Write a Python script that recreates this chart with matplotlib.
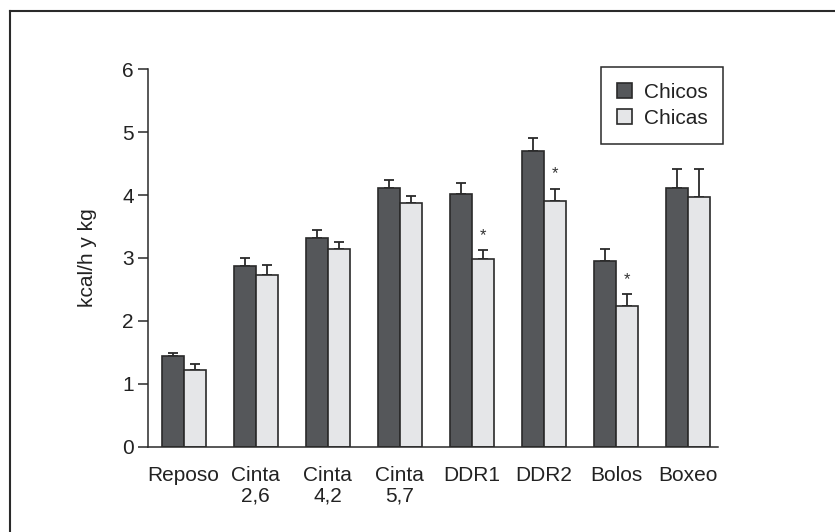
import numpy as np
import matplotlib.pyplot as plt
from matplotlib.lines import Line2D

plt.rcParams['font.family'] = ['Liberation Sans', 'DejaVu Sans']

# Datos
actividades = ['Reposo', 'Cinta\n2,6', 'Cinta\n4,2', 'Cinta\n5,7', 'DDR1', 'DDR2', 'Bolos', 'Boxeo']
chicos = [1.44, 2.88, 3.32, 4.11, 4.01, 4.70, 2.95, 4.11]
chicos_err = [0.05, 0.12, 0.12, 0.13, 0.19, 0.20, 0.20, 0.31]
chicas = [1.22, 2.73, 3.14, 3.87, 2.99, 3.90, 2.23, 3.97]
chicas_err = [0.09, 0.16, 0.12, 0.12, 0.13, 0.20, 0.19, 0.45]
significativo = [False, False, False, False, True, True, True, False]

color_chicos = '#55575a'
color_chicas = '#e5e6e8'
borde = '#2a2a2a'
fs = 15

fig = plt.figure(figsize=(8.35, 5.32), dpi=100)
ax = fig.add_axes([0.1776, 0.1604, 0.8595 - 0.1776, 0.8697 - 0.1604])

x = np.arange(len(actividades))
w = 0.305

ax.bar(x - w / 2, chicos, w, color=color_chicos, edgecolor=borde, linewidth=1.2, label='Chicos', zorder=2)
ax.bar(x + w / 2, chicas, w, color=color_chicas, edgecolor=borde, linewidth=1.2, label='Chicas', zorder=2)

# Barras de error (solo hacia arriba)
ax.errorbar(x - w / 2, chicos, yerr=[np.zeros(len(x)), chicos_err], fmt='none',
            ecolor=borde, elinewidth=1.3, capsize=3.8, capthick=1.3, zorder=1)
ax.errorbar(x + w / 2, chicas, yerr=[np.zeros(len(x)), chicas_err], fmt='none',
            ecolor=borde, elinewidth=1.3, capsize=3.8, capthick=1.3, zorder=1)

# Asteriscos de significación
for i in range(len(x)):
    if significativo[i]:
        ax.text(x[i] + w / 2, chicas[i] + chicas_err[i] + 0.12, '*', ha='center', va='bottom',
                fontsize=12, color='#333333')

ax.set_xlim(-0.49, 7.41)
ax.set_ylim(0, 6)
ax.set_yticks(range(7))
ax.set_xticks(x)
ax.set_xticklabels(actividades, fontsize=fs, color='#222222', linespacing=1.1)
ax.tick_params(axis='x', length=0, pad=14)
ax.tick_params(axis='y', direction='out', length=7.5, width=1.1, labelsize=fs,
               labelcolor='#222222', pad=3, color=borde)
ax.set_ylabel('kcal/h y kg', fontsize=fs, color='#222222', labelpad=18)

for s in ['top', 'right']:
    ax.spines[s].set_visible(False)
for s in ['left', 'bottom']:
    ax.spines[s].set_linewidth(1.1)
    ax.spines[s].set_color(borde)

leg = ax.legend(loc='upper right', bbox_to_anchor=(723 / 835, 1 - 67 / 532),
                bbox_transform=fig.transFigure, borderaxespad=0, fancybox=False,
                fontsize=fs, handlelength=0.75, handleheight=0.75, handletextpad=0.55,
                borderpad=0.75, labelspacing=0.35, framealpha=1)
leg.get_frame().set_edgecolor(borde)
leg.get_frame().set_linewidth(1.1)
for t in leg.get_texts():
    t.set_color('#222222')

# Marco parcial de la figura (izquierda y arriba)
fig.add_artist(Line2D([10 / 835, 10 / 835], [0, 1 - 11 / 532], transform=fig.transFigure,
                      color=borde, linewidth=1.5))
fig.add_artist(Line2D([10 / 835, 1], [1 - 11 / 532, 1 - 11 / 532], transform=fig.transFigure,
                      color=borde, linewidth=1.5))

fig.savefig('out.png', dpi=100)
